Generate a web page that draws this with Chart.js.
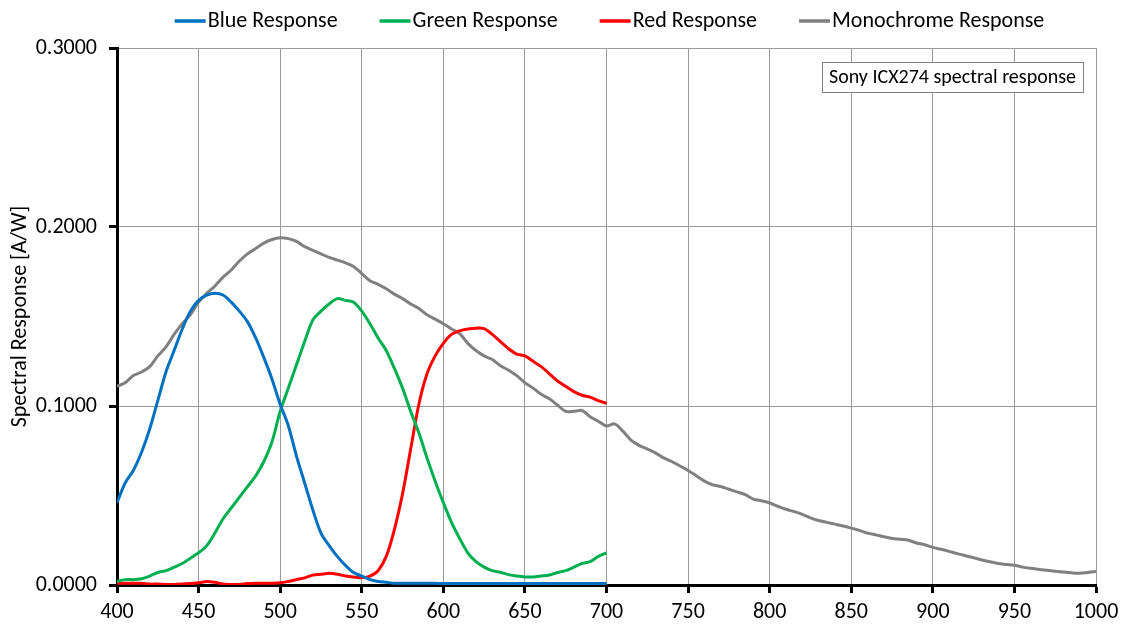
<!DOCTYPE html>
<html>
<head>
<meta charset="utf-8">
<script src="https://cdn.jsdelivr.net/npm/chart.js@4.4.1/dist/chart.umd.min.js"></script>
<style>
html,body{margin:0;padding:0;background:#fff;}
#wrap{width:1128px;height:630px;position:relative;}
</style>
</head>
<body>
<div id="wrap"><canvas id="c" width="1128" height="630"></canvas></div>
<script>
// Wavelengths (nm), 5 nm steps
const wavelengths = [];
for (let w = 400; w <= 1000; w += 5) wavelengths.push(w);

const blueResponse = [
0.046,0.057,0.064,0.074,0.087,0.103,0.119,0.131,0.143,0.153,
0.159,0.162,0.163,0.162,0.158,0.153,0.147,0.138,0.127,0.115,
0.101,0.089,0.072,0.057,0.042,0.029,0.022,0.016,0.011,0.007,
0.005,0.003,0.002,0.0015,0.001,0.001,0.001,0.001,0.001,0.001,
0.0008,0.0008,0.0008,0.0008,0.0008,0.0008,0.0008,0.0008,0.0008,0.0008,
0.0008,0.0008,0.0008,0.0008,0.0008,0.0008,0.0008,0.0008,0.0008,0.0008,
0.0008];

const greenResponse = [
0.002,0.003,0.003,0.0035,0.005,0.007,0.008,0.010,0.012,0.015,
0.018,0.022,0.029,0.037,0.043,0.049,0.055,0.061,0.069,0.080,
0.097,0.110,0.123,0.136,0.148,0.153,0.157,0.160,0.159,0.158,
0.153,0.146,0.138,0.131,0.121,0.110,0.097,0.085,0.071,0.058,
0.046,0.035,0.026,0.018,0.013,0.010,0.008,0.007,0.0058,0.005,
0.0045,0.0045,0.005,0.0056,0.007,0.008,0.010,0.012,0.013,0.016,
0.018];

const redResponse = [
0.001,0.001,0.001,0.001,0.0005,0.0005,0.0003,0.0003,0.0005,0.0008,
0.0012,0.002,0.0015,0.0005,0.0003,0.0003,0.0008,0.001,0.001,0.001,
0.0012,0.002,0.003,0.004,0.0055,0.006,0.0065,0.006,0.005,0.0045,
0.004,0.005,0.008,0.016,0.031,0.051,0.076,0.101,0.118,0.128,
0.135,0.140,0.142,0.143,0.1435,0.1432,0.140,0.136,0.132,0.129,
0.128,0.125,0.122,0.118,0.114,0.111,0.108,0.106,0.105,0.103,
0.1015];

const monoResponse = [
0.111,0.113,0.117,0.119,0.122,0.128,0.133,0.140,0.146,0.151,
0.158,0.163,0.167,0.172,0.176,0.181,0.185,0.188,0.191,0.193,
0.194,0.1935,0.192,0.189,0.187,0.185,0.183,0.1815,0.180,0.178,
0.174,0.170,0.168,0.1655,0.1625,0.160,0.157,0.1545,0.151,0.1485,
0.146,0.143,0.1405,0.135,0.131,0.128,0.126,0.1225,0.120,0.117,
0.113,0.110,0.1065,0.104,0.1005,0.097,0.097,0.0975,0.094,0.0915,
0.0888,0.090,0.086,0.081,0.078,0.076,0.0738,0.071,0.069,0.0665,
0.064,0.061,0.058,0.056,0.055,0.0535,0.052,0.0505,0.048,0.047,
0.0458,0.044,0.0423,0.041,0.0395,0.0375,0.036,0.035,0.034,0.033,
0.0318,0.0305,0.029,0.028,0.027,0.026,0.0255,0.025,0.0235,0.0225,
0.021,0.020,0.0188,0.0175,0.0163,0.0152,0.014,0.013,0.012,0.0115,
0.011,0.010,0.0093,0.0087,0.0082,0.0077,0.0072,0.0068,0.0066,0.0070,
0.0075];

const seriesNames = ['Blue Response','Green Response','Red Response','Monochrome Response'];
const seriesColors = ['#0070C0','#00B050','#FF0000','#808080'];
const seriesValues = [blueResponse, greenResponse, redResponse, monoResponse];
const xTicks = [400,450,500,550,600,650,700,750,800,850,900,950,1000];
const yTicks = [0, 0.1, 0.2, 0.3];
const annotationText = 'Sony ICX274 spectral response';
const yAxisTitle = 'Spectral Response [A/W]';

const FONT = 'Calibri, Carlito, Lato, sans-serif';

const datasets = seriesValues.map((vals, i) => ({
  label: seriesNames[i],
  data: vals.map((v, j) => ({x: wavelengths[j], y: v})),
  borderColor: seriesColors[i],
  backgroundColor: seriesColors[i],
  borderWidth: 3,
  pointRadius: 0,
  tension: 0.3,
  fill: false
}));

// Legend drawn on the canvas with line samples (Excel-like spacing)
const lineLegendPlugin = {
  id: 'lineLegend',
  afterDraw(chart) {
    const ctx = chart.ctx;
    ctx.save();
    ctx.font = '22px ' + FONT;
    const lineW = 31, gapLT = 2, gapItems = 42;
    const items = chart.data.datasets.map(ds => ({
      label: ds.label, color: ds.borderColor, tw: ctx.measureText(ds.label).width
    }));
    const total = items.reduce((s, it) => s + lineW + gapLT + it.tw, 0) + gapItems * (items.length - 1);
    const cx = (chart.chartArea.left + chart.chartArea.right) / 2 + 3;
    let x = cx - total / 2;
    const y = 21;
    ctx.textBaseline = 'middle';
    items.forEach(it => {
      ctx.strokeStyle = it.color;
      ctx.lineWidth = 3.5;
      ctx.beginPath();
      ctx.moveTo(x, y);
      ctx.lineTo(x + lineW, y);
      ctx.stroke();
      ctx.fillStyle = '#000';
      ctx.fillText(it.label, x + lineW + gapLT, y);
      x += lineW + gapLT + it.tw + gapItems;
    });
    ctx.restore();
  }
};

const annotationPlugin = {
  id: 'annot',
  afterDraw(chart) {
    const ctx = chart.ctx;
    ctx.save();
    ctx.font = '20px ' + FONT;
    const w = ctx.measureText(annotationText).width;
    const bw = w + 14;
    const right = chart.chartArea.right - 13;
    const x = Math.round(right - bw);
    const y = 62;
    ctx.fillStyle = '#fff';
    ctx.fillRect(x, y, bw, 30);
    ctx.strokeStyle = '#808080';
    ctx.lineWidth = 1;
    ctx.strokeRect(x + 0.5, y + 0.5, bw, 30);
    ctx.fillStyle = '#000';
    ctx.textBaseline = 'middle';
    ctx.fillText(annotationText, x + 7, y + 16);
    ctx.restore();
  }
};

new Chart(document.getElementById('c'), {
  type: 'line',
  data: { datasets },
  plugins: [annotationPlugin, lineLegendPlugin],
  options: {
    responsive: false,
    animation: false,
    layout: { padding: { left: 0, right: 32, top: 48, bottom: 0 } },
    plugins: {
      legend: { display: false },
      tooltip: { enabled: false }
    },
    scales: {
      x: {
        type: 'linear',
        min: 400, max: 1000,
        afterBuildTicks(scale) { scale.ticks = xTicks.map(v => ({value: v})); },
        afterFit(scale) { scale.height = 45; },
        ticks: { font: { family: FONT, size: 22 }, color: '#000', padding: 6, maxRotation: 0,
          callback: v => String(v) },
        grid: { color: '#9a9a9a', lineWidth: 1, tickColor: '#000', tickLength: 8, tickWidth: 3 },
        border: { color: '#000', width: 3 }
      },
      y: {
        min: 0, max: 0.3,
        afterBuildTicks(scale) { scale.ticks = yTicks.map(v => ({value: v})); },
        afterFit(scale) { scale.width = 117; },
        ticks: {
          font: { family: FONT, size: 22 }, color: '#000', padding: 12,
          callback: v => Number(v).toFixed(4)
        },
        title: { display: true, text: yAxisTitle, font: { family: FONT, size: 22 }, color: '#000', padding: { top: 7, bottom: 0 } },
        grid: { color: '#9a9a9a', lineWidth: 1, tickColor: '#000', tickLength: 8, tickWidth: 3 },
        border: { color: '#000', width: 3 }
      }
    }
  }
});
</script>
</body>
</html>
